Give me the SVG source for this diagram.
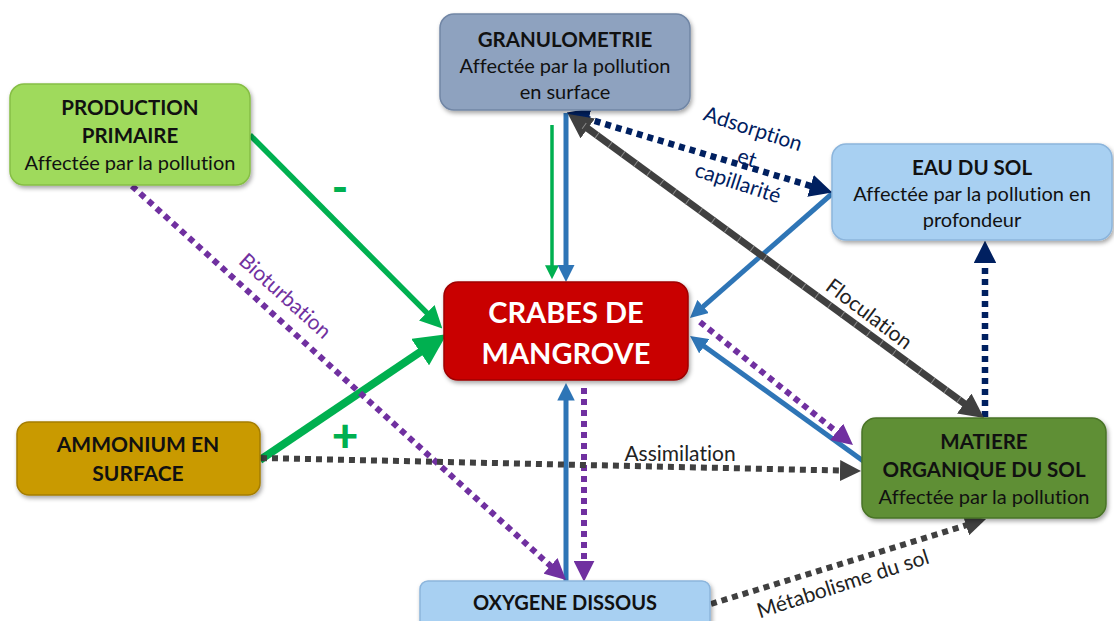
<svg xmlns="http://www.w3.org/2000/svg" width="1114" height="621" viewBox="0 0 1114 621">
<style>
.node rect{stroke-width:1.5;filter:url(#sh)}
.t{font-family:Lato,"Open Sans","Liberation Sans",sans-serif;text-anchor:middle;fill:#111;font-variant-ligatures:none}
.b{font-weight:bold;font-size:20.5px}
.r{font-size:20px}
.lbl{font-family:Lato,"Open Sans","Liberation Sans",sans-serif;text-anchor:middle;font-size:21px;font-variant-ligatures:none}
.c line{fill:none}
.dot{stroke-dasharray:6 5}
</style>
<defs>
<filter id="sh" x="-10%" y="-10%" width="125%" height="130%">
<feDropShadow dx="1.5" dy="2.5" stdDeviation="2" flood-color="#000" flood-opacity="0.35"/>
</filter>
<marker id="mg" viewBox="0 0 10 10" refX="2" refY="5" markerWidth="4" markerHeight="4" orient="auto-start-reverse"><path d="M0,0 L10,5 L0,10 z" fill="#00B050"/></marker>
<marker id="mb" viewBox="0 0 10 10" refX="2" refY="5" markerWidth="3.5" markerHeight="3.5" orient="auto-start-reverse"><path d="M0,0 L10,5 L0,10 z" fill="#2E75B6"/></marker>
<marker id="mp" viewBox="0 0 10 10" refX="2" refY="5" markerWidth="3.5" markerHeight="3.5" orient="auto-start-reverse"><path d="M0,0 L10,5 L0,10 z" fill="#7030A0"/></marker>
<marker id="mn" viewBox="0 0 10 10" refX="2" refY="5" markerWidth="3.5" markerHeight="3.5" orient="auto-start-reverse"><path d="M0,0 L10,5 L0,10 z" fill="#002060"/></marker>
<marker id="mk" viewBox="0 0 10 10" refX="2" refY="5" markerWidth="3.5" markerHeight="3.5" orient="auto-start-reverse"><path d="M0,0 L10,5 L0,10 z" fill="#404040"/></marker>
</defs>
<rect width="1114" height="621" fill="#fff"/>

<g id="connectors" class="c">
<line x1="250" y1="135" x2="429.9" y2="315.9" stroke="#00B050" stroke-width="5.5" marker-end="url(#mg)"/>
<line x1="260" y1="460" x2="425.4" y2="348.5" stroke="#00B050" stroke-width="8" marker-end="url(#mg)"/>
<line x1="552" y1="125" x2="552" y2="268" stroke="#00B050" stroke-width="3.5" marker-end="url(#mg)"/>
<line x1="566" y1="113" x2="566" y2="268" stroke="#2E75B6" stroke-width="5" marker-end="url(#mb)"/>
<line x1="834" y1="192" x2="700.5" y2="308.8" stroke="#2E75B6" stroke-width="5" marker-end="url(#mb)"/>
<line x1="866" y1="463" x2="701.4" y2="344.2" stroke="#2E75B6" stroke-width="5" marker-end="url(#mb)"/>
<line x1="566" y1="581" x2="566" y2="397" stroke="#2E75B6" stroke-width="5" marker-end="url(#mb)"/>
<line class="dot" x1="700" y1="322" x2="839.9" y2="434.5" stroke="#7030A0" stroke-width="6" marker-end="url(#mp)"/>
<line class="dot" x1="584" y1="388" x2="584" y2="565" stroke="#7030A0" stroke-width="6" marker-end="url(#mp)"/>
<line class="dot" x1="132" y1="186" x2="553.6" y2="568.7" stroke="#7030A0" stroke-width="6" marker-end="url(#mp)"/>
<line class="dot" x1="584.1" y1="117.8" x2="814.9" y2="187.2" stroke="#002060" stroke-width="6.5" marker-start="url(#mn)" marker-end="url(#mn)"/>
<line class="dot" x1="985" y1="417" x2="985" y2="258.8" stroke="#002060" stroke-width="6.5" marker-end="url(#mn)"/>
<line x1="583.8" y1="125.6" x2="968.2" y2="406.4" stroke="#404040" stroke-width="7" marker-start="url(#mk)" marker-end="url(#mk)"/>
<line x1="583.8" y1="125.6" x2="968.2" y2="406.4" stroke="#8a8a8a" stroke-width="7" stroke-dasharray="1 15"/>
<line class="dot" x1="261" y1="458" x2="844.2" y2="470.6" stroke="#404040" stroke-width="6" marker-end="url(#mk)"/>
<line class="dot" x1="711" y1="604" x2="970" y2="524" stroke="#404040" stroke-width="6" marker-end="url(#mk)"/>

<text class="lbl" x="340" y="203" fill="#00B050" style="font-size:44px;font-weight:900">-</text>
<text class="lbl" x="345" y="452" fill="#00B050" style="font-size:46px;font-weight:900">+</text>
<text class="lbl" transform="translate(285,296) rotate(42)" y="7" fill="#7030A0">Bioturbation</text>
<text class="lbl" transform="translate(753,129) rotate(18)" y="7" fill="#002060">Adsorption</text>
<text class="lbl" transform="translate(747,158) rotate(18)" y="7" fill="#002060">et</text>
<text class="lbl" transform="translate(738,183) rotate(18)" y="7" fill="#002060">capillarité</text>
<text class="lbl" transform="translate(869,314) rotate(37)" y="7" fill="#222">Floculation</text>
<text class="lbl" x="680" y="461" fill="#222">Assimilation</text>
<text class="lbl" transform="translate(843,584) rotate(-18)" y="7" fill="#222">Métabolisme du sol</text>
</g>

<g id="granulometrie" class="node">
<rect x="440" y="14" width="250" height="96" rx="14" fill="#8EA2BF" stroke="#7186A5"/>
<text class="t b" x="565" y="47">GRANULOMETRIE</text>
<text class="t r" x="565" y="73">Affectée par la pollution</text>
<text class="t r" x="565" y="99">en surface</text>
</g>

<g id="production" class="node">
<rect x="10" y="84" width="240" height="101" rx="14" fill="#9FDA5C" stroke="#86BE45"/>
<text class="t b" x="130" y="115">PRODUCTION</text>
<text class="t b" x="130" y="143">PRIMAIRE</text>
<text class="t r" x="130" y="170">Affectée par la pollution</text>
</g>

<g id="eau" class="node">
<rect x="832" y="144" width="280" height="96" rx="14" fill="#A8D0F2" stroke="#8CB5DC"/>
<text class="t b" x="972" y="175">EAU DU SOL</text>
<text class="t r" x="972" y="201">Affectée par la pollution en</text>
<text class="t r" x="972" y="227">profondeur</text>
</g>

<g id="crabes" class="node">
<rect x="444" y="282" width="244" height="98" rx="14" fill="#C90000" stroke="#9E0000"/>
<text class="t" x="566" y="323" style="font-weight:bold;font-size:29px;fill:#fff">CRABES DE</text>
<text class="t" x="566" y="364" style="font-weight:bold;font-size:29px;fill:#fff">MANGROVE</text>
</g>

<g id="ammonium" class="node">
<rect x="17" y="422" width="243" height="73" rx="12" fill="#C99A06" stroke="#A47D00"/>
<text class="t" x="138" y="452" style="font-weight:bold;font-size:21px">AMMONIUM EN</text>
<text class="t" x="138" y="481" style="font-weight:bold;font-size:21px">SURFACE</text>
</g>

<g id="matiere" class="node">
<rect x="862" y="418" width="244" height="100" rx="14" fill="#5F8F35" stroke="#4A7428"/>
<text class="t b" x="984" y="449">MATIERE</text>
<text class="t b" x="984" y="477">ORGANIQUE DU SOL</text>
<text class="t r" x="984" y="504">Affectée par la pollution</text>
</g>

<g id="oxygene" class="node">
<rect x="420" y="581" width="290" height="50" rx="8" fill="#A8D0F2" stroke="#8CB5DC"/>
<text class="t" x="565" y="610" style="font-weight:bold;font-size:20px">OXYGENE DISSOUS</text>
</g>
</svg>
